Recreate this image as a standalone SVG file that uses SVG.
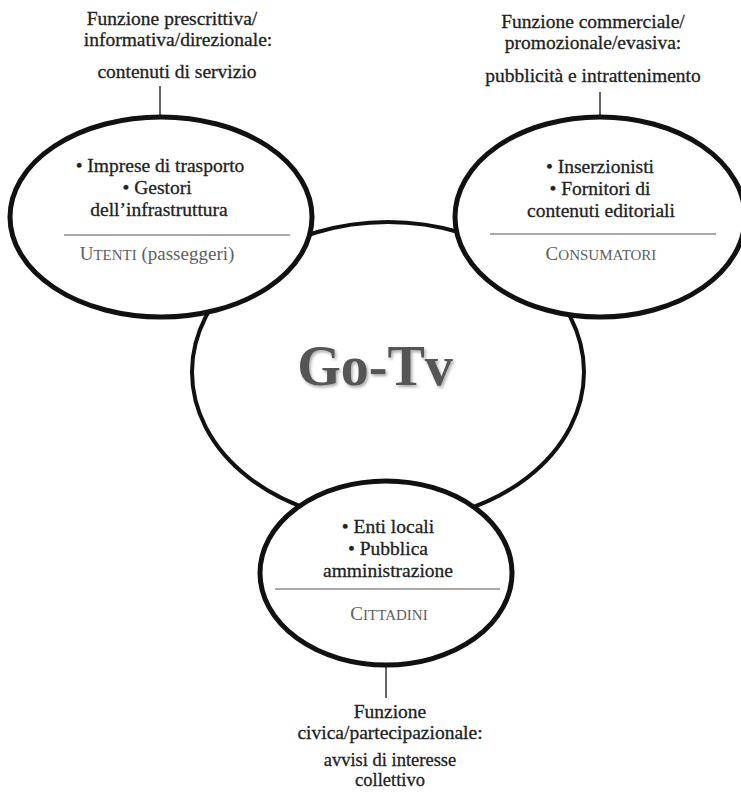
<svg xmlns="http://www.w3.org/2000/svg" width="741" height="792" viewBox="0 0 741 792">
<defs>
<style>
.bub{fill:#fff;stroke:#111;stroke-width:5}
.ctr{fill:#fff;stroke:#111;stroke-width:4}
.div{stroke:#555;stroke-width:1.2}
.con{stroke:#333;stroke-width:1.5}
.t{font-family:"Liberation Serif","Times New Roman",serif;font-size:19.5px;fill:#222;stroke:#222;stroke-width:0.3;text-anchor:middle}
.s{font-size:18.5px}
.g{font-family:"Liberation Serif","Times New Roman",serif;fill:#606060;text-anchor:middle;font-size:19px}
.sc{font-size:15px}
.big{font-family:"Liberation Serif","Times New Roman",serif;font-size:56px;font-weight:bold;fill:#555;text-anchor:middle}
</style>
<filter id="sh" x="-10%" y="-10%" width="130%" height="140%">
<feDropShadow dx="1.5" dy="2" stdDeviation="1.5" flood-color="#000" flood-opacity="0.35"/>
</filter>
</defs>
<rect width="741" height="792" fill="#fff"/>

<g id="connectors">
<line class="con" x1="160" y1="86" x2="160" y2="118"/>
<line class="con" x1="600" y1="92" x2="600" y2="117"/>
<line class="con" x1="386" y1="664" x2="386" y2="698"/>
</g>

<g id="gotv">
<ellipse class="ctr" cx="388" cy="372" rx="196" ry="150"/>
<text class="big" x="375" y="385" filter="url(#sh)">Go-Tv</text>
</g>

<g id="utenti">
<ellipse class="bub" cx="161" cy="217" rx="151" ry="100"/>
<text class="t" x="160" y="172">• Imprese di trasporto</text>
<text class="t" x="157" y="194">• Gestori</text>
<text class="t" x="159" y="216">dell’infrastruttura</text>
<line class="div" x1="64" y1="235" x2="290" y2="235"/>
<text class="g" x="157" y="260">U<tspan class="sc">TENTI</tspan> (passeggeri)</text>
</g>

<g id="consumatori">
<ellipse class="bub" cx="600" cy="217" rx="145" ry="100"/>
<text class="t" x="600" y="173">• Inserzionisti</text>
<text class="t" x="600" y="195">• Fornitori di</text>
<text class="t" x="601" y="217">contenuti editoriali</text>
<line class="div" x1="490" y1="234" x2="716" y2="234"/>
<text class="g" x="601" y="260">C<tspan class="sc">ONSUMATORI</tspan></text>
</g>

<g id="cittadini">
<ellipse class="bub" cx="386" cy="573" rx="126" ry="92"/>
<text class="t" x="388" y="533">• Enti locali</text>
<text class="t" x="388" y="555">• Pubblica</text>
<text class="t" x="388" y="577">amministrazione</text>
<line class="div" x1="275" y1="589" x2="500" y2="589"/>
<text class="g" x="389" y="620">C<tspan class="sc">ITTADINI</tspan></text>
</g>

<g id="label-servizio">
<text class="t" x="172" y="25">Funzione prescrittiva/</text>
<text class="t" x="178" y="46">informativa/direzionale:</text>
<text class="t" x="177" y="78">contenuti di servizio</text>
</g>

<g id="label-commerciale">
<text class="t" x="593" y="28">Funzione commerciale/</text>
<text class="t" x="593" y="49">promozionale/evasiva:</text>
<text class="t" x="593" y="82">pubblicità e intrattenimento</text>
</g>

<g id="label-civica">
<text class="t" x="390" y="718">Funzione</text>
<text class="t" x="390" y="739">civica/partecipazionale:</text>
<text class="t s" x="390" y="766">avvisi di interesse</text>
<text class="t s" x="390" y="786">collettivo</text>
</g>
</svg>
